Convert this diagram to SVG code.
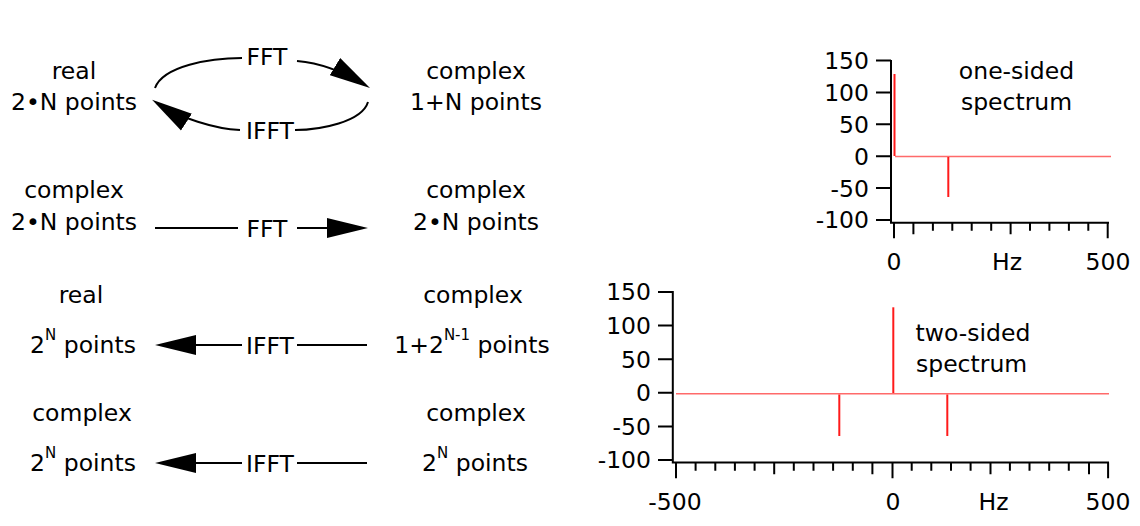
<svg xmlns="http://www.w3.org/2000/svg" width="1140" height="526" viewBox="0 0 1140 526">
<style>
  text { font-family: "DejaVu Sans", "Liberation Sans", sans-serif; font-size: 23.5px; fill: #000; }
  .c { text-anchor: middle; }
  .r { text-anchor: end; }
  .sup { font-size: 15px; }
  .conn { fill: none; stroke: #000; stroke-width: 2; }
  .axis { stroke: #000; stroke-width: 2; fill: none; }
  .spike { stroke: #ff1a1a; stroke-width: 2; }
  .zero { stroke: #ff6a6a; stroke-width: 1.6; }
</style>
<defs>
  <marker id="ah" markerUnits="userSpaceOnUse" markerWidth="41" markerHeight="21" viewBox="0 0 41 21" refX="35" refY="10.5" orient="auto">
    <path d="M0,0.5 L41,10.5 L0,20.5 z" fill="#000"/>
  </marker>
</defs>

<g id="row1-left">
  <text class="c" x="74" y="79">real</text>
  <text class="c" x="74" y="110">2•N points</text>
</g>
<g id="row1-right">
  <text class="c" x="476" y="79">complex</text>
  <text class="c" x="476" y="110">1+N points</text>
</g>
<g id="row2-left">
  <text class="c" x="74" y="198">complex</text>
  <text class="c" x="74" y="230">2•N points</text>
</g>
<g id="row2-right">
  <text class="c" x="476" y="198">complex</text>
  <text class="c" x="476" y="230">2•N points</text>
</g>
<g id="row3-left">
  <text class="c" x="81" y="303">real</text>
  <text class="c" x="83" y="353">2<tspan class="sup" dy="-13">N</tspan><tspan dy="13"> points</tspan></text>
</g>
<g id="row3-right">
  <text class="c" x="473" y="303">complex</text>
  <text class="c" x="472" y="353">1+2<tspan class="sup" dy="-13">N-1</tspan><tspan dy="13"> points</tspan></text>
</g>
<g id="row4-left">
  <text class="c" x="82" y="421">complex</text>
  <text class="c" x="83" y="471">2<tspan class="sup" dy="-13">N</tspan><tspan dy="13"> points</tspan></text>
</g>
<g id="row4-right">
  <text class="c" x="476" y="421">complex</text>
  <text class="c" x="475" y="471">2<tspan class="sup" dy="-13">N</tspan><tspan dy="13"> points</tspan></text>
</g>

<g id="connectors">
  <path class="conn" d="M155,88 C163,66 210,58 242,58"/>
  <path class="conn" d="M297,61 C320,63 343,71.5 364.9,84.8" marker-end="url(#ah)"/>
  <path class="conn" d="M368,102 C362,122 320,130 295,130"/>
  <path class="conn" d="M240,130 C215,129 180,118 157.1,103.1" marker-end="url(#ah)"/>
  <text class="c" x="267" y="65">FFT</text>
  <text class="c" x="270" y="139">IFFT</text>

  <path class="conn" d="M155,228 L238,228"/>
  <path class="conn" d="M297,228 L362,228" marker-end="url(#ah)"/>
  <text class="c" x="267" y="237">FFT</text>

  <path class="conn" d="M242,345 L161,345" marker-end="url(#ah)"/>
  <path class="conn" d="M297,345 L367,345"/>
  <text class="c" x="270" y="353.5">IFFT</text>

  <path class="conn" d="M242,463 L161,463" marker-end="url(#ah)"/>
  <path class="conn" d="M297,463 L367,463"/>
  <text class="c" x="270" y="471.5">IFFT</text>
</g>

<g id="plot-one-sided">
  <path class="axis" d="M891,60 V223.7 M890,222.7 H1109"/>
  <path class="axis" d="M876,60.5 H891 M876,92.4 H891 M876,124.3 H891 M876,156.2 H891 M876,188.1 H891 M876,220 H891"/>
  <text class="r" x="869" y="69">150</text>
  <text class="r" x="869" y="100.8">100</text>
  <text class="r" x="869" y="132.7">50</text>
  <text class="r" x="869" y="164.6">0</text>
  <text class="r" x="869" y="196.5">-50</text>
  <text class="r" x="869" y="228.4">-100</text>
  <path class="axis" d="M894,222.7 V238.3 M913.4,222.7 V234.3 M932.9,222.7 V230.7 M952.3,222.7 V230.7 M971.7,222.7 V230.7 M991.2,222.7 V230.7 M1010.6,222.7 V234.3 M1030,222.7 V230.7 M1049.4,222.7 V230.7 M1068.9,222.7 V230.7 M1088.3,222.7 V230.7 M1107.7,222.7 V238.3"/>
  <text class="c" x="894" y="270">0</text>
  <text class="c" x="1007" y="270">Hz</text>
  <text class="c" x="1108" y="270">500</text>
  <line class="zero" x1="895" y1="156.5" x2="1111" y2="156.5"/>
  <line class="spike" x1="894.5" y1="74" x2="894.5" y2="156"/>
  <line class="spike" x1="948.3" y1="157" x2="948.3" y2="197"/>
  <text class="c" x="1016.5" y="78.5">one-sided</text>
  <text class="c" x="1016.5" y="110">spectrum</text>
</g>

<g id="plot-two-sided">
  <path class="axis" d="M672.8,291 V463.5 M671.8,462.5 H1109"/>
  <path class="axis" d="M658,292 H673 M658,325.6 H673 M658,359.2 H673 M658,392.8 H673 M658,426.4 H673 M658,460 H673"/>
  <text class="r" x="651" y="300.4">150</text>
  <text class="r" x="651" y="334">100</text>
  <text class="r" x="651" y="367.6">50</text>
  <text class="r" x="651" y="401.2">0</text>
  <text class="r" x="651" y="434.8">-50</text>
  <text class="r" x="651" y="468.4">-100</text>
  <path class="axis" d="M676,462.5 V478.3 M695.6,462.5 V470.7 M715.3,462.5 V470.7 M734.9,462.5 V470.7 M754.6,462.5 V470.7 M774.2,462.5 V474.3 M793.8,462.5 V470.7 M813.5,462.5 V470.7 M833.1,462.5 V470.7 M852.8,462.5 V470.7 M872.4,462.5 V474.3 M892.5,462.5 V478.3 M911.7,462.5 V470.7 M931.3,462.5 V470.7 M951,462.5 V470.7 M970.6,462.5 V470.7 M990.5,462.5 V474.3 M1009.9,462.5 V470.7 M1029.5,462.5 V470.7 M1049.2,462.5 V470.7 M1068.8,462.5 V470.7 M1089,462.5 V474.3 M1108.1,462.5 V478.3"/>
  <text class="c" x="675" y="510">-500</text>
  <text class="c" x="893" y="510">0</text>
  <text class="c" x="993.5" y="510">Hz</text>
  <text class="c" x="1108" y="510">500</text>
  <line class="zero" x1="676" y1="393.8" x2="1109" y2="393.8"/>
  <line class="spike" x1="893.3" y1="307.3" x2="893.3" y2="393"/>
  <line class="spike" x1="839.3" y1="394.5" x2="839.3" y2="436"/>
  <line class="spike" x1="947.3" y1="394.5" x2="947.3" y2="436"/>
  <text x="915.5" y="340.5">two-sided</text>
  <text x="916" y="371.5">spectrum</text>
</g>
</svg>
